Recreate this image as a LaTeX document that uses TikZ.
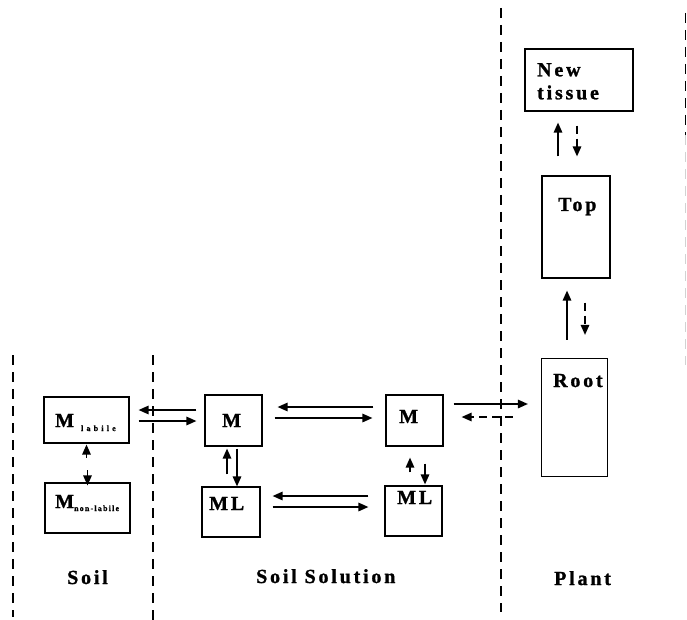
\documentclass[tikz,border=0pt]{standalone}
\usepackage{fontspec}
\setmainfont{Liberation Serif}
\newfontfamily\lblfont[LetterSpace=14,FakeBold=1.2]{Liberation Serif Bold}
\newfontfamily\subfont[LetterSpace=40,FakeBold=1]{Liberation Serif Bold}
\newfontfamily\subfontn[LetterSpace=15,FakeBold=1]{Liberation Serif Bold}
\usetikzlibrary{arrows.meta,positioning}
\newcommand{\sublbl}[2]{\raisebox{#1}{\fontsize{8}{9}\selectfont #2}}

\begin{document}
\begin{tikzpicture}[x=1pt,y=-1pt,>={Triangle[length=10pt,width=8.5pt]},
  box/.style={draw,line width=1.2pt,inner sep=0pt},
  txt/.style={font=\lblfont\fontsize{20}{23}\selectfont,inner sep=0pt,anchor=base west,align=left},
  arr/.style={->,line width=1.5pt},
  darr/.style={->,line width=1.5pt,dash pattern=on 8pt off 5pt},
  sep/.style={line width=1.8pt,dash pattern=on 10pt off 7pt}]
\useasboundingbox (0,0) rectangle (687,620);
% dividing lines
\draw[sep] (13,355) -- (13,617);
\draw[sep] (153,355) -- (153,620);
\draw[sep] (501,8) -- (501,612);
\draw[sep] (685.5,13) -- (685.5,135);
\draw[sep,gray!35] (685.5,135) -- (685.5,365);
% soil
\node[box,minimum width=85pt,minimum height=46pt] (lab) at (86.5,420) {};
\node[box,minimum width=85pt,minimum height=50pt] (nonlab) at (87.5,508) {};
\node[txt] (labt) at (55,427) {M\hspace{7pt}\sublbl{-4pt}{\subfont labile}};
\node[txt] (nonlabt) at (55,508) {M\sublbl{-3pt}{\subfontn non-labile}};
\node[txt] (soil) at (67,584) {Soil};
% soil solution
\node[box,minimum width=57pt,minimum height=51pt] (m1) at (233.5,420.5) {};
\node[box,minimum width=58pt,minimum height=50pt] (ml1) at (231,512) {};
\node[box,minimum width=57pt,minimum height=51pt] (m2) at (414.5,420.5) {};
\node[box,minimum width=57pt,minimum height=50pt] (ml2) at (413.5,511) {};
\node[txt] (m1t) at (222,427) {M};
\node[txt] (ml1t) at (209,510) {ML};
\node[txt] (m2t) at (399,423) {M};
\node[txt] (ml2t) at (397,504) {ML};
\node[txt] (solution) at (256,583) {Soil Solution};
% plant
\node[box,minimum width=66pt,minimum height=118pt] (root) at (574.5,417.5) {};
\node[box,minimum width=68pt,minimum height=102pt] (top) at (576,227) {};
\node[box,minimum width=108pt,minimum height=62pt] (new) at (579,80) {};
\node[txt] (roott) at (553,387) {Root};
\node[txt] (topt) at (558,211) {Top};
\node[txt,anchor=north west] (newt) at (537,63) {New\\tissue};
\node[txt] (plant) at (554,585) {Plant};
% exchanges in the soil
\draw[arr] ([yshift=-14pt]lab.south) -- ([yshift=-1pt]lab.south);
\draw[arr] ([yshift=12pt]nonlab.north) -- ([yshift=-3pt]nonlab.north);
\draw[arr,shorten <=8pt,shorten >=9pt] (m1.west |- 0,410) -- (lab.east |- 0,410);
\draw[arr,shorten <=9pt,shorten >=8pt] (lab.east |- 0,421) -- (m1.west |- 0,421);
% exchanges in solution
\draw[arr,shorten <=12pt,shorten >=15pt] (m2.west |- 0,407) -- (m1.east |- 0,407);
\draw[arr,shorten <=12pt,shorten >=13pt] (m1.east |- 0,418) -- (m2.west |- 0,418);
\draw[arr,shorten <=16pt,shorten >=12pt] (ml2.west |- 0,496) -- (ml1.east |- 0,496);
\draw[arr,shorten <=12pt,shorten >=16pt] (ml1.east |- 0,507) -- (ml2.west |- 0,507);
\draw[arr,shorten <=12pt,shorten >=2pt] (ml1.north -| 227,0) -- (m1.south -| 227,0);
\draw[arr,shorten <=2pt] (m1.south -| 237,0) -- (ml1.north -| 237,0);
\draw[arr,shorten <=13pt,shorten >=11pt] (ml2.north -| 410,0) -- (m2.south -| 410,0);
\draw[arr,shorten <=17pt,shorten >=1pt] (m2.south -| 425,0) -- (ml2.north -| 425,0);
% uptake and transport in the plant
\draw[arr,shorten <=10pt,shorten >=13pt] (m2.east |- 0,404) -- (root.west |- 0,404);
\draw[darr,shorten <=28pt,shorten >=18pt] (root.west |- 0,417) -- (m2.east |- 0,417);
\draw[arr,shorten <=18pt,shorten >=12pt] (root.north -| 567,0) -- (top.south -| 567,0);
\draw[darr,shorten <=24pt,shorten >=23pt] (top.south -| 585,0) -- (root.north -| 585,0);
\draw[arr,shorten <=19pt,shorten >=11pt] (top.north -| 558,0) -- (new.south -| 558,0);
\draw[darr,shorten <=14pt,shorten >=19pt] (new.south -| 577,0) -- (top.north -| 577,0);
\end{tikzpicture}
\end{document}
